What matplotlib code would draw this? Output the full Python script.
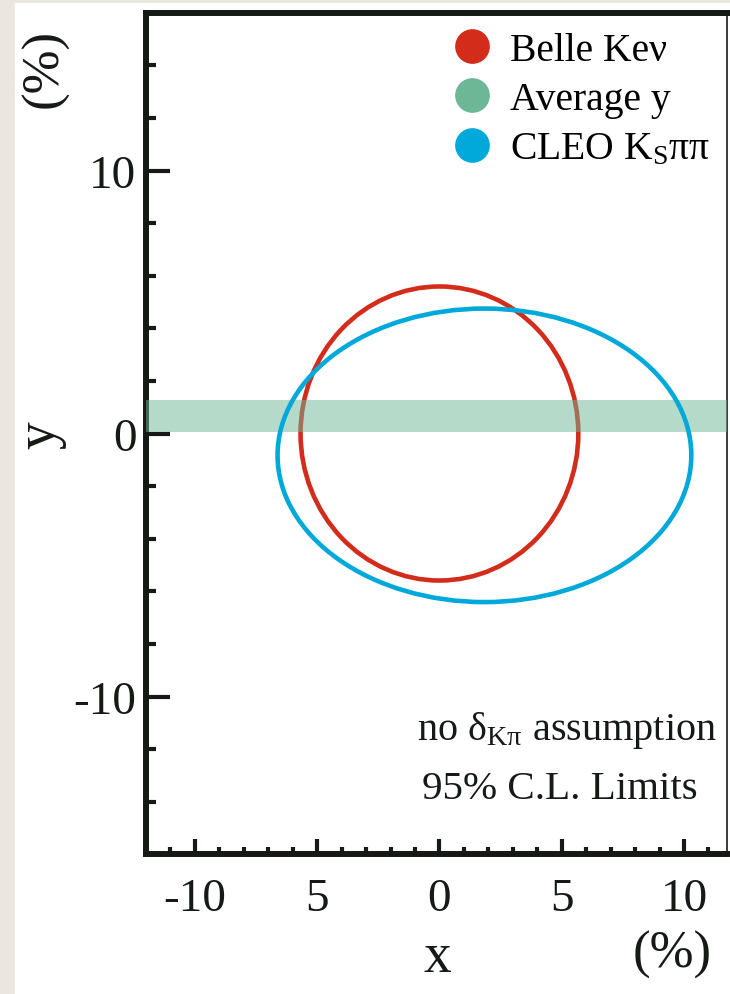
import matplotlib
matplotlib.use("Agg")
import matplotlib.pyplot as plt
from matplotlib.patches import Ellipse, Rectangle
from matplotlib.lines import Line2D
from matplotlib.ticker import FixedLocator, MultipleLocator

plt.rcParams["font.family"] = ["Liberation Serif", "DejaVu Serif"]
plt.rcParams["mathtext.fontset"] = "custom"
plt.rcParams["mathtext.rm"] = "Liberation Serif"
plt.rcParams["mathtext.it"] = "Liberation Serif:italic"

# 95% C.L. contours in the (x, y) mixing plane, in percent
belle_center = (0.0, 0.0)
belle_radii = (5.68, 5.59)
cleo_center = (1.84, -0.83)
cleo_radii = (8.46, 5.58)
avg_y_band = (0.06, 1.26)

series_names = ["Belle Keν", "Average y", "CLEO K$_{\\mathrm{S}}$ππ"]
series_colors = ["#d42c1a", "#6db696", "#00a9da"]

x_major = [-10, -5, 0, 5, 10]
x_major_labels = ["-10", "5", "0", "5", "10"]
y_major = [-10, 0, 10]
y_major_labels = ["-10", "0", "10"]
xlim = (-12, 11.76)
ylim = (-16, 16)

W, H = 730, 995
fig = plt.figure(figsize=(W / 100, H / 100), dpi=100, facecolor="#ebe7de")
# white panel behind the plot
fig.patches.append(Rectangle((15 / W, 0), 1 - 15 / W, 1 - 4 / H,
                             transform=fig.transFigure, color="white", zorder=-10))

ax = fig.add_axes([146 / W, 1 - 855.3 / H, (727 - 146) / W, (855.3 - 13.7) / H])
ax.set_xlim(*xlim)
ax.set_ylim(*ylim)

ink = "#161a16"
for side in ["left", "top", "bottom"]:
    ax.spines[side].set_linewidth(4.3)
    ax.spines[side].set_color(ink)
ax.spines["right"].set_linewidth(1.2)
ax.spines["right"].set_color(ink)

# Belle circle goes under the band, CLEO ellipse on top
ax.add_patch(Ellipse(belle_center, 2 * belle_radii[0], 2 * belle_radii[1],
                     fill=False, lw=3.3, ec=series_colors[0], zorder=2))
ax.axhspan(avg_y_band[0], avg_y_band[1], color=series_colors[1], alpha=0.5, lw=0, zorder=3)
ax.add_patch(Ellipse(cleo_center, 2 * cleo_radii[0], 2 * cleo_radii[1],
                     fill=False, lw=3.3, ec=series_colors[2], zorder=4))

ax.xaxis.set_major_locator(FixedLocator(x_major))
ax.set_xticklabels(x_major_labels)
ax.xaxis.set_minor_locator(MultipleLocator(1))
ax.yaxis.set_major_locator(FixedLocator(y_major))
ax.set_yticklabels(y_major_labels)
ax.yaxis.set_minor_locator(MultipleLocator(2))

ax.tick_params(axis="both", which="both", direction="in", color=ink, width=3,
               labelsize=34, labelcolor=ink)
ax.tick_params(axis="x", which="major", length=11, pad=17)
ax.tick_params(axis="x", which="minor", length=5)
ax.tick_params(axis="y", which="major", length=17, pad=7)
ax.tick_params(axis="y", which="minor", length=7.5)

handles = [Line2D([], [], ls="", marker="o", ms=25, mec="none", mfc=c) for c in series_colors]
ax.legend(handles, series_names, loc="upper left", bbox_to_anchor=(453 / W, 1 - 33 / H),
          bbox_transform=fig.transFigure, frameon=False, fontsize=28.5, handlelength=0.95,
          handletextpad=0.48, labelspacing=0.31, borderpad=0, borderaxespad=0)

fig.text(567 / W, 1 - 731 / H, "no δ$_{\\mathrm{Kπ}}$ assumption", fontsize=29,
         ha="center", va="center", color=ink)
fig.text(560 / W, 1 - 790 / H, "95% C.L. Limits", fontsize=29.5, ha="center", va="center", color=ink)

# axis titles
fig.text(437 / W, 1 - 958 / H, "x", fontsize=40, ha="center", va="center", color=ink)
fig.text(672 / W, 1 - 955 / H, "(%)", fontsize=38, ha="center", va="center", color=ink)
fig.text(40 / W, 1 - 435 / H, "y", fontsize=40, ha="center", va="center", rotation=90, color=ink)
fig.text(45 / W, 1 - 68 / H, "(%)", fontsize=38, ha="center", va="center", rotation=90, color=ink)

fig.savefig("out.png", dpi=100, facecolor=fig.get_facecolor())
